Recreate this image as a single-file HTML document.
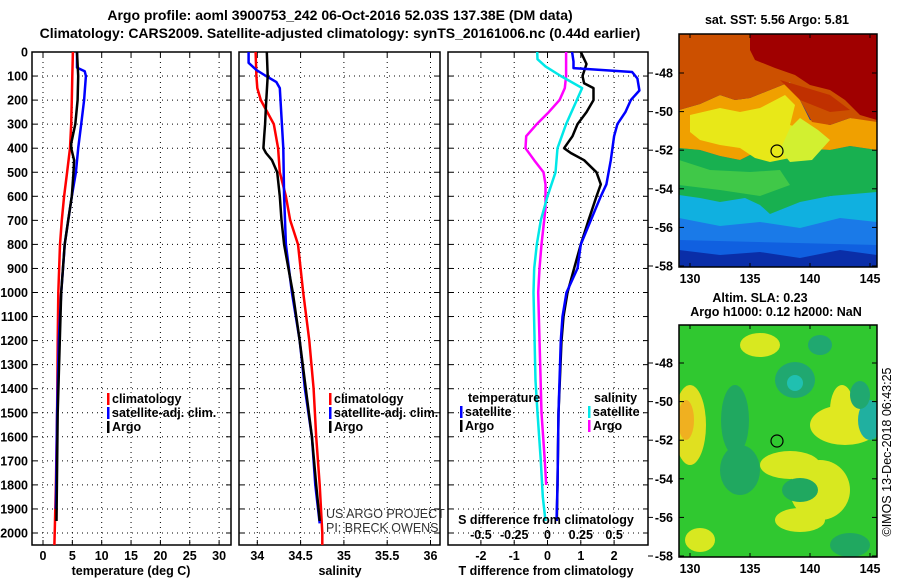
<!DOCTYPE html>
<html><head><meta charset="utf-8">
<style>
html,body{margin:0;padding:0;background:#fff;}
svg{display:block;font-family:"Liberation Sans",sans-serif;}
.t{font-size:14px;font-weight:bold;}
.k{font-size:12.5px;font-weight:bold;}
</style></head>
<body>
<svg id="chart" width="900" height="580" viewBox="0 0 900 580" xmlns="http://www.w3.org/2000/svg">
<defs>
<clipPath id="cp1"><rect x="32" y="52" width="199" height="493"/></clipPath>
<clipPath id="cp2"><rect x="239" y="52" width="201" height="493"/></clipPath>
<clipPath id="cp3"><rect x="448" y="52" width="200" height="493"/></clipPath>
<clipPath id="cm1"><rect x="679" y="34" width="198" height="233"/></clipPath>
<clipPath id="cm2"><rect x="679" y="325" width="198" height="232"/></clipPath>
</defs>
<text class="t" x="340" y="20" text-anchor="middle">Argo profile: aoml 3900753_242 06-Oct-2016 52.03S 137.38E (DM data)</text>
<text class="t" x="340" y="38" text-anchor="middle">Climatology: CARS2009. Satellite-adjusted climatology: synTS_20161006.nc (0.44d earlier)</text>

<!-- SST map -->
<g clip-path="url(#cm1)">
<rect x="679" y="34" width="198" height="233" fill="#0a2ea8"/>
<polygon fill="#1060e0" points="679,225 720,232 760,226 800,236 840,228 877,232 877,255 840,250 800,258 760,252 720,255 679,250"/>
<polygon fill="#1a7ae8" points="679,212 720,220 760,212 800,222 840,214 877,220 877,245 679,240"/>
<polygon fill="#10b0e0" points="679,190 700,196 720,200 745,196 770,210 800,200 830,196 877,188 877,222 840,218 800,228 760,222 720,226 679,218"/>
<polygon fill="#18b050" points="679,148 700,150 720,156 740,160 760,150 780,142 800,148 830,150 850,146 877,150 877,192 830,196 800,202 770,214 760,205 745,198 720,202 700,198 679,195"/>
<polygon fill="#40c848" points="679,160 710,170 750,172 780,170 790,185 760,196 720,190 679,185"/>
<polygon fill="#f0a000" points="679,110 700,104 720,95 735,100 750,98 765,92 790,82 800,100 810,120 830,125 850,118 877,120 877,150 850,146 830,150 800,148 780,142 760,150 740,160 720,156 700,150 679,148"/>
<polygon fill="#e8e818" points="690,115 720,108 740,112 760,108 785,95 795,105 790,125 820,135 820,150 790,158 770,162 755,158 740,148 720,145 700,140 690,132"/>
<polygon fill="#d2f030" points="800,118 818,130 830,140 812,160 790,162 780,150 790,128"/>
<polygon fill="#cc5000" points="679,34 877,34 877,122 850,118 830,125 812,122 800,100 790,82 765,92 750,98 735,100 720,95 700,104 679,110"/>
<polygon fill="#a00000" points="750,34 877,34 877,120 860,115 845,100 830,90 810,85 795,75 775,68 755,60 750,50"/>
<polygon fill="#c03000" points="780,80 830,95 850,110 830,112 800,100"/>
</g>
<rect x="679" y="34" width="198" height="233" fill="none" stroke="#000" stroke-width="1.5"/>
<circle cx="777" cy="151" r="6" fill="none" stroke="#000" stroke-width="1.2"/>
<text class="k" x="777" y="24" text-anchor="middle">sat. SST: 5.56 Argo: 5.81</text>

<!-- SLA map -->
<g clip-path="url(#cm2)">
<rect x="679" y="325" width="198" height="232" fill="#30c830"/>
<ellipse cx="690" cy="425" rx="16" ry="40" fill="#e0e020"/>
<ellipse cx="686" cy="420" rx="8" ry="20" fill="#f0b020"/>
<ellipse cx="735" cy="420" rx="14" ry="35" fill="#20a860"/>
<ellipse cx="795" cy="380" rx="20" ry="18" fill="#20a870"/>
<ellipse cx="795" cy="383" rx="8" ry="8" fill="#20c0b0"/>
<ellipse cx="845" cy="425" rx="35" ry="20" fill="#e0e820"/>
<ellipse cx="842" cy="410" rx="12" ry="25" fill="#e0e820"/>
<ellipse cx="870" cy="420" rx="12" ry="20" fill="#20b0a0"/>
<ellipse cx="860" cy="395" rx="10" ry="14" fill="#20a870"/>
<ellipse cx="820" cy="490" rx="30" ry="30" fill="#d8e820"/>
<ellipse cx="790" cy="465" rx="30" ry="14" fill="#d8e820"/>
<ellipse cx="800" cy="520" rx="25" ry="12" fill="#d8e820"/>
<ellipse cx="800" cy="490" rx="18" ry="12" fill="#20a860"/>
<ellipse cx="740" cy="470" rx="20" ry="25" fill="#20a860"/>
<ellipse cx="760" cy="345" rx="20" ry="12" fill="#d8e820"/>
<ellipse cx="820" cy="345" rx="12" ry="10" fill="#20a870"/>
<ellipse cx="850" cy="545" rx="20" ry="12" fill="#20a860"/>
<ellipse cx="700" cy="540" rx="15" ry="12" fill="#d8e820"/>
</g>
<rect x="679" y="325" width="198" height="232" fill="none" stroke="#000" stroke-width="1.5"/>
<circle cx="777" cy="441" r="6" fill="none" stroke="#000" stroke-width="1.2"/>
<text class="k" x="760" y="302" text-anchor="middle">Altim. SLA: 0.23</text>
<text class="k" x="776" y="316" text-anchor="middle">Argo h1000: 0.12 h2000: NaN</text>
<text x="0" y="0" font-size="12.5" transform="translate(891,452) rotate(-90)" text-anchor="middle">©IMOS 13-Dec-2018 06:43:25</text>

<g id="plots"></g>

<text class="k" x="131" y="575" text-anchor="middle">temperature (deg C)</text>
<text class="k" x="340" y="575" text-anchor="middle">salinity</text>
<text class="k" x="546" y="575" text-anchor="middle">T difference from climatology</text>
<text class="k" x="546" y="524" text-anchor="middle">S difference from climatology</text>
<text x="326" y="518" font-size="12.5" fill="#333">US ARGO PROJECT</text>
<text x="326" y="532" font-size="12.5" fill="#333">PI: BRECK OWENS</text>
</svg>
<script>
// ---- data ----
const depthTicks = [0,100,200,300,400,500,600,700,800,900,1000,1100,1200,1300,1400,1500,1600,1700,1800,1900,2000];
const tempTicks = [0,5,10,15,20,25,30];
const salTicks = [34,34.5,35,35.5,36];
const salTickLabels = ["34","34.5","35","35.5","36"];
const dTTicks = [-2,-1,0,1,2];
const dSTicks = [-0.5,-0.25,0,0.25,0.5];
const dSTickLabels = ["-0.5","-0.25","0","0.25","0.5"];
const latTicks = [-48,-50,-52,-54,-56,-58];
const lonTicks = [130,135,140,145];

const tClimDepth = [0,100,200,300,400,500,600,700,800,1000,1200,1500,1800,2000,2050];
const tClim      = [5.1,5.0,4.9,4.8,4.6,4.1,3.6,3.2,2.9,2.6,2.5,2.4,2.2,2.0,1.95];
const tSatDepth = [0,65,80,100,200,300,400,500,600,700,800,900,1000,1200,1500,1900];
const tSat      = [5.8,5.8,7.1,7.3,7.0,6.5,6.0,5.6,4.9,4.3,3.7,3.4,3.1,2.7,2.4,2.2];
const tArgoDepth = [0,100,200,300,380,400,450,500,600,700,800,1000,1500,1950];
const tArgo      = [5.8,6.0,5.9,5.5,4.8,4.8,5.3,5.2,4.9,4.3,3.7,3.1,2.5,2.3];

const sClimDepth = [0,100,150,200,300,400,500,600,700,800,1000,1200,1400,1600,1800,2000,2050];
const sClim      = [33.98,33.99,34.0,34.04,34.19,34.24,34.26,34.33,34.38,34.47,34.53,34.6,34.65,34.68,34.72,34.75,34.75];
const sSatDepth = [0,45,75,100,125,150,400,600,800,1000,1200,1400,1600,1800,1960];
const sSat      = [33.9,33.9,33.99,34.1,34.22,34.26,34.3,34.31,34.33,34.4,34.49,34.55,34.63,34.67,34.72];
const sArgoDepth = [0,100,220,300,350,400,420,450,500,600,700,800,1000,1200,1400,1600,1800,1950];
const sArgo      = [34.11,34.12,34.1,34.09,34.08,34.07,34.1,34.17,34.23,34.26,34.28,34.31,34.41,34.49,34.56,34.63,34.68,34.72];

const dTSatDepth = [0,40,67,83,110,160,200,250,300,350,450,550,600,700,800,900,1000,1100,1200,1500,1800,1950];
const dTSat      = [0.74,0.78,0.78,2.54,2.7,2.76,2.5,2.34,2.1,2.0,1.9,1.77,1.6,1.3,1.0,0.9,0.57,0.45,0.4,0.33,0.3,0.27];
const dTArgoDepth = [0,50,100,130,150,200,250,300,350,400,420,450,500,550,600,700,800,900,1000,1100,1200,1500,1800,1950];
const dTArgo      = [1.0,1.17,1.05,1.1,1.38,1.38,1.17,0.9,0.75,0.5,0.7,1.1,1.47,1.6,1.47,1.23,1.0,0.8,0.6,0.48,0.42,0.33,0.3,0.28];
const dSSatDepth = [0,30,60,100,150,200,300,400,500,600,700,800,900,1000,1366,1500,1700,1850,1950];
const dSSat      = [-0.077,-0.075,-0.015,0.1,0.26,0.22,0.14,0.075,0.06,0.0,-0.05,-0.08,-0.1,-0.105,-0.09,-0.075,-0.05,-0.035,-0.015];
const dSArgoDepth = [0,100,150,200,250,300,350,400,450,500,550,650,800,900,1000,1500,1700,1800];
const dSArgo      = [0.14,0.14,0.13,0.09,0.01,-0.08,-0.16,-0.165,-0.1,-0.03,-0.015,-0.015,-0.045,-0.06,-0.07,-0.045,-0.02,-0.01];

// ---- axes ----
const NS = 'http://www.w3.org/2000/svg';
const yD = d => 52 + d * 0.2405;
const xT = v => 43 + 5.87 * v;
const xS = v => 257.3 + 86.6 * (v - 34);
const xDT = v => 547.5 + 33.3 * v;
const xDS = v => 547.5 + 133.2 * v;
const yLat1 = v => 73 + (-48 - v) * 19.3;
const yLat2 = v => 363 + (-48 - v) * 19.3;
const xLon = v => 690 + (v - 130) * 12;
const g = document.getElementById('plots');

function mk(tag, attrs, parent) {
  const el = document.createElementNS(NS, tag);
  for (const k in attrs) el.setAttribute(k, attrs[k]);
  (parent || g).appendChild(el);
  return el;
}

const panels = [
  {name:'temperature', x0:32, x1:231, cp:'cp1'},
  {name:'salinity', x0:239, x1:440, cp:'cp2'},
  {name:'difference', x0:448, x1:648, cp:'cp3'}
];

panels.forEach((p, pi) => {
  // horizontal depth grid
  depthTicks.forEach(d => {
    const ln = mk('line', {x1:p.x0, x2:p.x1, y1:yD(d), y2:yD(d), stroke:'#000', 'stroke-width':1, 'stroke-dasharray':'1 4'});
    
    
    mk('line', {x1:p.x0, x2:p.x0+5, y1:yD(d), y2:yD(d), stroke:'#000'});
    mk('line', {x1:p.x1-5, x2:p.x1, y1:yD(d), y2:yD(d), stroke:'#000'});
  });
  const fr = mk('rect', {x:p.x0, y:52, width:p.x1-p.x0, height:493, fill:'none', stroke:'#000', 'stroke-width':1.5});
  
  
});

depthTicks.forEach(d => {
  const t = mk('text', {x:28, y:yD(d)+4.5, 'text-anchor':'end', class:'k'});
  t.textContent = d;
  
  
});

function vgrid(xs, labels, fx, y0, labelY) {
  xs.forEach((v, i) => {
    const x = fx(v);
    const ln = mk('line', {x1:x, x2:x, y1:52, y2:545, stroke:'#000', 'stroke-dasharray':'1 4'});
    
    
    mk('line', {x1:x, x2:x, y1:545, y2:540, stroke:'#000'});
    mk('line', {x1:x, x2:x, y1:52, y2:57, stroke:'#000'});
    const t = mk('text', {x:x, y:labelY, 'text-anchor':'middle', class:'k'});
    t.textContent = labels[i];
    
    
  });
}
vgrid(tempTicks, tempTicks.map(String), xT, 0, 560);
vgrid(salTicks, salTickLabels, xS, 0, 560);
vgrid(dTTicks, dTTicks.map(String), xDT, 0, 560);
dSTicks.forEach((v, i) => {
  const t = mk('text', {x:xDS(v), y:539, 'text-anchor':'middle', class:'k'});
  t.textContent = dSTickLabels[i];
  
  
});

function line(depths, vals, fx, color, cp, name) {
  const pts = depths.map((d, i) => fx(vals[i]).toFixed(1) + ',' + yD(d).toFixed(1)).join(' ');
  const pl = mk('polyline', {points:pts, fill:'none', stroke:color, 'stroke-width':2.5, 'clip-path':'url(#'+cp+')', 'stroke-linejoin':'round'});
  
  
}
line(tClimDepth, tClim, xT, '#ff0000', 'cp1', 'temperature-climatology-line');
line(tSatDepth, tSat, xT, '#0000ff', 'cp1', 'temperature-satellite-line');
line(tArgoDepth, tArgo, xT, '#000000', 'cp1', 'temperature-argo-line');
line(sClimDepth, sClim, xS, '#ff0000', 'cp2', 'salinity-climatology-line');
line(sSatDepth, sSat, xS, '#0000ff', 'cp2', 'salinity-satellite-line');
line(sArgoDepth, sArgo, xS, '#000000', 'cp2', 'salinity-argo-line');
line(dSArgoDepth, dSArgo, xDS, '#ff00ff', 'cp3', 's-diff-argo-line');
line(dSSatDepth, dSSat, xDS, '#00e8e8', 'cp3', 's-diff-satellite-line');
line(dTArgoDepth, dTArgo, xDT, '#000000', 'cp3', 't-diff-argo-line');
line(dTSatDepth, dTSat, xDT, '#0000ff', 'cp3', 't-diff-satellite-line');

// legends
function legend(x, y, color, label, name) {
  const m = mk('rect', {x:x, y:y-10, width:2.5, height:12, fill:color});
  
  
  if (label) {
    const t = mk('text', {x:x+5, y:y, class:'k'});
    t.textContent = label;
    
    
  }
}
[[107,'#ff0000','climatology'],[107,'#0000ff','satellite-adj. clim.'],[107,'#000','Argo']].forEach((l,i)=>legend(l[0], 403+i*14, l[1], l[2], 'temp-legend-'+i));
[[329,'#ff0000','climatology'],[329,'#0000ff','satellite-adj. clim.'],[329,'#000','Argo']].forEach((l,i)=>legend(l[0], 403+i*14, l[1], l[2], 'sal-legend-'+i));
const lt = mk('text', {x:468, y:402, class:'k'}); lt.textContent = 'temperature';


const ls = mk('text', {x:594, y:402, class:'k'}); ls.textContent = 'salinity';


legend(460, 416, '#0000ff', 'satellite', 'diff-legend-t-sat');
legend(460, 430, '#000', 'Argo', 'diff-legend-t-argo');
legend(588, 416, '#00e8e8', 'satellite', 'diff-legend-s-sat');
legend(588, 430, '#ff00ff', 'Argo', 'diff-legend-s-argo');

// map ticks
[yLat1, yLat2].forEach((fy, mi) => {
  latTicks.forEach(v => {
    const y = fy(v);
    mk('line', {x1:648, x2:653, y1:y, y2:y, stroke:'#000'});
    mk('line', {x1:679, x2:684, y1:y, y2:y, stroke:'#000'});
    mk('line', {x1:872, x2:877, y1:y, y2:y, stroke:'#000'});
    const t = mk('text', {x:673, y:y+4.5, 'text-anchor':'end', class:'k'});
    t.textContent = v;
    
    
  });
  lonTicks.forEach(v => {
    const x = xLon(v);
    const yb = mi ? 557 : 267, yt = mi ? 325 : 34;
    mk('line', {x1:x, x2:x, y1:yb, y2:yb-4, stroke:'#000'});
    mk('line', {x1:x, x2:x, y1:yt, y2:yt+4, stroke:'#000'});
    const t = mk('text', {x:x, y:yb+16, 'text-anchor':'middle', class:'k'});
    t.textContent = v;
    
    
  });
});
</script>
</body></html>
